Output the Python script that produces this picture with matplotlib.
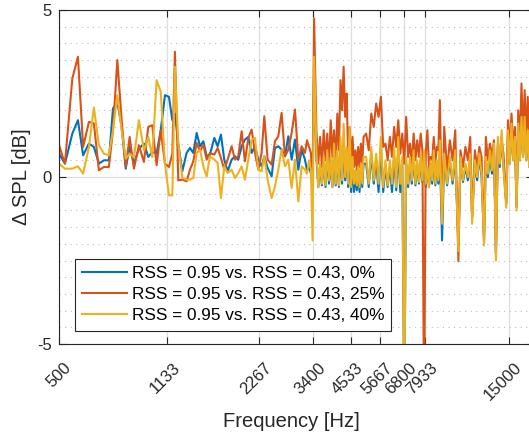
import matplotlib
matplotlib.use("Agg")
import matplotlib.pyplot as plt
from matplotlib.ticker import MultipleLocator, NullLocator, FixedLocator

plt.rcParams['font.family'] = ['Liberation Sans', 'DejaVu Sans']
plt.rcParams['axes.unicode_minus'] = False

# frequency points [Hz]
freq = [500, 523, 553, 577, 600, 627, 651, 676, 702, 729, 752, 777, 803, 828,
        853, 881, 915, 950, 982, 1012, 1046, 1079, 1114, 1148, 1178, 1201,
        1232, 1270, 1312, 1346, 1380, 1416, 1452, 1489, 1527, 1565, 1618, 1659,
        1701, 1744, 1789, 1844, 1891, 1939, 1989, 2039, 2092, 2145, 2200, 2256,
        2313, 2361, 2421, 2495, 2559, 2624, 2691, 2760, 2831, 2903, 2977, 3053,
        3131, 3211,
        3260, 3310, 3360, 3400, 3440,
        3500, 3550, 3600, 3650, 3700, 3750, 3800, 3850, 3900, 3950, 4000, 4050,
        4100, 4150, 4200, 4250, 4300, 4350, 4400, 4450, 4500, 4550, 4600, 4650,
        4700, 4750, 4800, 4850, 4900, 4950, 5000,
        5100, 5200, 5300, 5400, 5500, 5600, 5700, 5800, 5900, 6000, 6100, 6200,
        6300, 6400, 6500, 6600, 6700, 6800, 6900, 7000, 7100, 7200, 7300, 7400,
        7500, 7600, 7700, 7800, 7900, 8000, 8100, 8200, 8300, 8400, 8500, 8600,
        8700, 8800, 8900, 9050,
        9200, 9400, 9600, 9800, 10000, 10240, 10400, 10600, 10800, 11000, 11200,
        11360, 11600, 11800, 12000, 12200, 12430, 12600, 12800, 13000, 13200,
        13400, 13600, 13800, 14000, 14200, 14400, 14700, 14900, 15100, 15300,
        15500, 15700, 15900, 16100, 16300, 16500, 16700, 16900, 17100, 17300,
        17500, 17700]

# delta SPL [dB], RSS 0.95 vs 0.43, 0 %
dspl_0 = [0.70, 0.40, 1.30, 1.70, 0.65, 1.00, 0.90, 0.40, 0.50, 0.50, 2.05, 2.25,
          1.50, 0.25, 0.90, 0.40, 0.85, 1.00, 0.60, 0.75, 0.70, 1.40, 2.45, 2.40,
          1.70, 1.90,
          1.0, 0.17, 0.72, 0.87, 0.72, 1.32, 0.92, 1.07, 0.62, 0.67, 1.17, 0.92,
          1.27, 0.52, 0.17, 0.52, 0.62, 0.52, 0.92, 1.12, 1.2, 0.72, 0.92, 0.52,
          0.32, 0.62, 0.27, 0.02, 0.87, 0.92, 0.82, 0.62, 1.22, 0.52, 1.12, 0.22,
          0.82, 0.52,
          0.2, 0.3, 0.1, -0.45, 3.2,
          0.6, -0.3, 0.3, -0.25, 0.5, -0.3, 0.6, -0.2, 0.4, -0.3, 0.7, -0.25,
          0.6, -0.3, 0.8, -0.2, 1.0, -0.1, 0.7, -0.3, 1.0, -0.45, 0.4, -0.45,
          0.1, -0.4, 0.2, -0.45, 0.3, -0.3, 0.4,
          0.4, -0.3, 0.7, -0.2, 0.5, -0.45, 0.9, -0.45, 0.3, -0.3, 0.3, -0.45,
          0.6, -0.4, 0.8, -0.45, 0.4, -7.0, 0.4, -0.3, 0.4, -0.2, 0.6, -0.25,
          0.4, -0.2, 0.5, -0.15, 0.6, -0.3, 0.3, -0.3, 0.4, -0.2, 0.6, -0.25,
          0.4, -0.2, 0.8, -1.9,
          0.6, -0.25, 0.5, -0.2, 0.6, -2.0, 0.5, -0.15, 0.3, -0.1, 0.6,
          -1.2, 0.4, -0.1, 0.6, 0.0, -1.9, 0.5, 0.0, 0.6, 0.1,
          0.9, -2.3, 1.0, 0.3, 1.2, 0.3, -0.8, 1.3, 0.4, 1.5,
          0.5, 1.1, -0.9, 1.5, 0.5, 1.7, 0.6, 1.7, 0.5, 1.3,
          0.3, 1.1]

# 25 %
dspl_25 = [0.95, 0.40, 2.95, 3.60, 0.90, 1.65, 1.60, 0.20, 0.30, 0.30, 1.40, 3.50,
           1.70, 0.30, 1.20, 0.25, 0.95, 0.45, 1.50, 1.55, 0.35, 1.40, 0.40, 0.30,
           0.70, 3.75,
           -0.1, -0.08, -0.13, 0.22, 0.47, 1.02, 0.77, 0.97, 0.52, 0.72, 0.67, 0.87,
           0.57, 0.22, 0.52, 0.92, 0.52, 0.62, 1.37, 0.47, 1.17, 1.42, 0.72, 0.22,
           0.72, 1.82, 0.52, 0.37, 1.07, 1.22, 1.92, 0.62, 0.82, 1.32, 2.02, 0.52,
           0.92, 0.72,
           1.1, 0.9, 0.7, -0.3, 4.75,
           1.4, 0.4, 1.2, 0.3, 1.4, 0.5, 1.3, 0.3, 1.7, 0.6, 1.4, 0.4,
           1.9, 0.8, 2.9, 2.0, 3.3, 1.8, 2.5, 0.6, 1.5, 0.4, 1.2, 0.3,
           0.8, 0.2, 0.9, 0.3, 1.0, 0.4, 1.2,
           1.3, 0.8, 1.9, 1.5, 2.2, 1.8, 2.4, 0.9, 1.0, 0.5, 1.2, 0.6,
           1.5, 0.9, 1.7, 0.7, 1.3, 0.4, 1.8, 0.6, 1.0, 0.4, 1.3, 0.5,
           1.1, 0.6, 1.3, 0.8, -7.0, 0.7, 1.4, 0.3, 0.6, 0.5, 1.2, 0.4,
           0.9, 0.8, 2.3, -1.3,
           1.5, 0.2, 1.1, 0.5, 1.4, -2.52, 0.8, 0.3, 0.9, 0.5, 1.2,
           -1.2, 0.8, 0.3, 0.9, 0.6, -1.9, 1.2, 0.5, 1.0, 0.6,
           1.1, -2.3, 0.9, 0.5, 1.1, 0.7, -0.8, 1.7, 0.8, 1.9,
           0.9, 1.5, -0.9, 2.0, 1.0, 2.8, 1.2, 2.6, 1.2, 2.4,
           1.0, 2.3]

# 40 %
dspl_40 = [0.40, 0.25, 0.25, 0.32, 0.10, 0.90, 2.08, 0.95, 0.70, 0.65, 1.40, 2.45,
           1.40, 0.55, 0.70, 0.60, 1.70, 0.80, 1.20, 0.60, 2.90, 2.55, 0.40, -0.55,
           -0.55, 3.30,
           1.02, -0.03, -0.08, -0.08, -0.03, 0.72, 0.82, 0.32, 0.02, 0.62, 0.52, 0.42,
           -0.63, 0.32, 0.12, 0.22, -0.03, 0.12, 0.32, -0.08, 0.52, 1.12, 1.17, 0.22,
           0.17, 0.62, -0.08, -0.63, -0.28, 0.22, 0.82, 0.32, 0.52, -0.33, 0.52, -0.73,
           0.32, 0.22,
           0.1, 0.5, 0.2, -1.9, 3.6,
           0.8, -0.3, 0.4, -0.2, 0.6, -0.25, 0.8, -0.1, 0.6, -0.3, 1.0, -0.2,
           0.8, -0.25, 1.2, -0.1, 1.6, 0.0, 0.9, -0.2, 1.5, -0.3, 0.6, -0.2,
           0.2, -0.25, 0.3, -0.3, 0.4, -0.2, 0.6,
           0.6, -0.2, 0.9, -0.1, 0.7, -0.2, 1.2, -0.3, 0.5, -0.25, 0.5, -0.2,
           0.9, -0.3, 1.2, -0.2, 0.6, -7.0, 0.6, -0.2, 0.6, -0.1, 0.8, -0.2,
           0.5, -0.15, 0.7, -0.1, 0.8, -0.2, 0.3, -0.3, 0.5, -0.1, 0.8, -0.2,
           0.5, -0.1, 1.1, -1.4,
           0.7, -0.2, 0.6, -0.1, 0.8, -2.22, 0.6, -0.1, 0.4, 0.0, 0.7,
           -1.4, 0.5, 0.0, 0.7, 0.1, -2.05, 0.6, 0.1, 0.8, 0.2,
           1.0, -2.5, 1.2, 0.4, 1.4, 0.3, -0.92, 1.4, 0.4, 1.6,
           0.5, 1.2, -1.0, 1.6, 0.5, 1.8, 0.6, 1.8, 0.5, 1.4,
           0.3, 1.2]

labels = ['RSS = 0.95 vs. RSS = 0.43, 0%',
          'RSS = 0.95 vs. RSS = 0.43, 25%',
          'RSS = 0.95 vs. RSS = 0.43, 40%']
colors = ['#0072BD', '#D95319', '#EDB120']
xticks = [500, 1133, 2267, 3400, 4533, 5667, 6800, 7933, 15000]
yticks = [-5, 0, 5]
txt = '#262626'

fig = plt.figure(figsize=(5.29, 4.38), dpi=100)
ax = fig.add_axes([59 / 529, 94 / 438, 474 / 529, 334 / 438])

for vals, c, lab in zip([dspl_0, dspl_25, dspl_40], colors, labels):
    ax.plot(freq, vals, color=c, lw=1.5, label=lab)

ax.set_xscale('log')
ax.set_xlim(500, 18000)
ax.set_ylim(-5, 5)
ax.xaxis.set_major_locator(FixedLocator(xticks))
ax.xaxis.set_minor_locator(NullLocator())
ax.set_xticklabels([])
ax.set_yticks(yticks)
ax.yaxis.set_minor_locator(MultipleLocator(0.5))

ax.set_axisbelow(True)
ax.grid(which='major', color='#dedede', lw=0.9)
ax.grid(which='minor', axis='y', color='#bdbdbd', lw=0.8, ls=(0, (1, 4)))

ax.tick_params(which='major', direction='in', length=5, width=0.8, top=True,
               right=True, colors=txt, labelsize=12, pad=5)
ax.tick_params(which='minor', length=0)
for s in ax.spines.values():
    s.set_color(txt)
    s.set_linewidth(0.8)

# rotated tick labels, MATLAB style (text ends just right of the tick)
for t in xticks:
    ax.annotate(str(t), xy=(t, 0), xycoords=('data', 'axes fraction'),
                xytext=(5, -16), textcoords='offset pixels', rotation=45,
                ha='right', va='top', rotation_mode='anchor',
                fontsize=12, color=txt, annotation_clip=False)

ax.set_xlabel('Frequency [Hz]', fontsize=14.5, color=txt)
ax.xaxis.set_label_coords(0.4895, -0.203)
ax.set_ylabel('Δ SPL [dB]', fontsize=14.5, color=txt)
ax.yaxis.set_label_coords(-0.06, 0.5)

leg = ax.legend(loc='lower left', bbox_to_anchor=(0.034, 0.04), fontsize=12.4,
                frameon=True, fancybox=False, framealpha=1, edgecolor=txt,
                handlelength=2.6, handletextpad=0.26, labelspacing=0.36,
                borderpad=0.42, borderaxespad=0)
leg.get_frame().set_linewidth(0.8)

fig.savefig('out.png', dpi=100)
